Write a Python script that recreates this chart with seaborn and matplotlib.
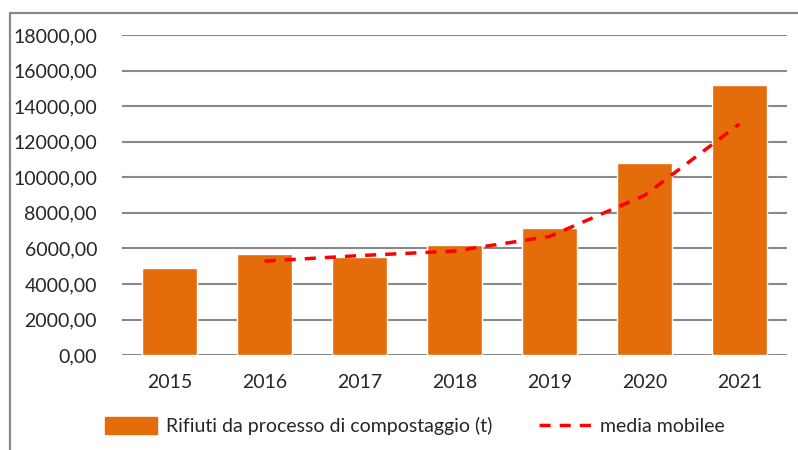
import matplotlib
matplotlib.use("Agg")
import pandas as pd
import seaborn as sns
from matplotlib import pyplot as plt
from matplotlib.lines import Line2D
from matplotlib.ticker import FuncFormatter

# Data
years = ["2015", "2016", "2017", "2018", "2019", "2020", "2021"]
waste_t = [4890, 5680, 5510, 6190, 7150, 10800, 15190]
moving_avg_years = ["2016", "2017", "2018", "2019", "2020", "2021"]
moving_avg = [5285, 5595, 5850, 6670, 8975, 12995]
series_labels = ["Rifiuti da processo di compostaggio (t)", "media mobilee"]

BAR_COLOR = "#E46C0A"
LINE_COLOR = "#FF0000"
GRID_COLOR = "#898989"
TEXT_COLOR = "#262626"

sns.set_style("white")
plt.rcParams["font.family"] = ["Lato", "DejaVu Sans"]

df_bars = pd.DataFrame({"anno": years, "rifiuti": waste_t})
df_line = pd.DataFrame(
    {"pos": [years.index(y) for y in moving_avg_years], "media": moving_avg}
)

fig = plt.figure(figsize=(7.98, 4.5), dpi=100)
ax = fig.add_axes([0.153, 0.211, 0.833, 0.711])

sns.barplot(
    data=df_bars, x="anno", y="rifiuti", color=BAR_COLOR, saturation=1,
    width=0.58, ax=ax, zorder=2,
)
sns.lineplot(
    data=df_line, x="pos", y="media", color=LINE_COLOR, lw=2.5,
    ax=ax, zorder=3,
)
ax.lines[-1].set_dashes([3.2, 2.6])

ax.set_ylim(0, 18000)
ax.set_xlim(-0.5, len(years) - 0.5)
ax.set_yticks(range(0, 18001, 2000))
ax.yaxis.set_major_formatter(FuncFormatter(lambda v, _: f"{v:.2f}".replace(".", ",")))
ax.grid(axis="y", color=GRID_COLOR, lw=1.5, zorder=0)
ax.set_axisbelow(True)
for side in ["left", "right", "top", "bottom"]:
    ax.spines[side].set_visible(False)
ax.set_xlabel("")
ax.set_ylabel("")
ax.tick_params(axis="y", length=0, pad=18, labelsize=14, labelcolor=TEXT_COLOR)
ax.tick_params(axis="x", length=0, pad=14, labelsize=14, labelcolor=TEXT_COLOR)

leg_handles = [
    plt.Rectangle((0, 0), 1, 1, color=BAR_COLOR),
    Line2D([0], [0], color=LINE_COLOR, lw=2.5, dashes=[3.2, 2.6]),
]
fig.legend(
    leg_handles, series_labels, loc="center", bbox_to_anchor=(0.52, 0.053), ncol=2,
    frameon=False, fontsize=14, handlelength=2.7, handleheight=0.9,
    columnspacing=2.4, handletextpad=0.45, labelcolor=TEXT_COLOR,
)

# Chart area border (left and top edges visible)
fig.add_artist(Line2D([0.0125, 0.0125], [0.0, 0.971], color=GRID_COLOR, lw=1.6))
fig.add_artist(Line2D([0.0125, 1.0], [0.971, 0.971], color=GRID_COLOR, lw=1.6))

fig.savefig("out.png", dpi=100)
